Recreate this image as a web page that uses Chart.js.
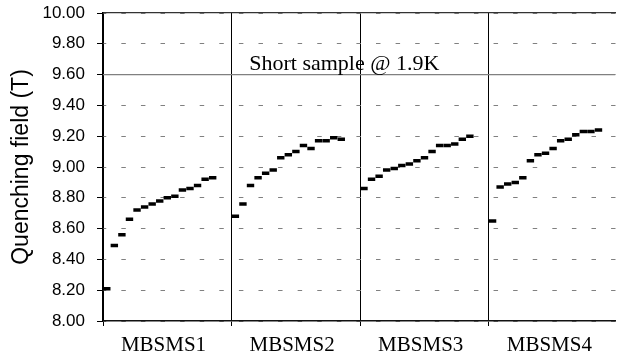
<!DOCTYPE html>
<html>
<head>
<meta charset="utf-8">
<script src="https://cdn.jsdelivr.net/npm/chart.js@4.4.0/dist/chart.umd.min.js"></script>
<style>
  html, body { margin: 0; padding: 0; background: #fff; }
  #wrap { width: 623px; height: 357px; position: relative; }
</style>
</head>
<body>
<div id="wrap"><canvas id="chart"></canvas></div>
<script>
// magnets and their quench fields (T)
const magnets = ['MBSMS1', 'MBSMS2', 'MBSMS3', 'MBSMS4'];
const mbsms1 = [8.21, 8.49, 8.56, 8.66, 8.72, 8.74, 8.76, 8.78, 8.80, 8.81, 8.85, 8.86, 8.88, 8.92, 8.93];
const mbsms2 = [8.68, 8.76, 8.88, 8.93, 8.96, 8.98, 9.06, 9.08, 9.10, 9.14, 9.12, 9.17, 9.17, 9.19, 9.18];
const mbsms3 = [8.86, 8.92, 8.94, 8.98, 8.99, 9.01, 9.02, 9.04, 9.06, 9.10, 9.14, 9.14, 9.15, 9.18, 9.20];
const mbsms4 = [8.65, 8.87, 8.89, 8.90, 8.93, 9.04, 9.08, 9.09, 9.12, 9.17, 9.18, 9.21, 9.23, 9.23, 9.24];
const shortSample = 9.60;
const shortSampleLabel = 'Short sample @ 1.9K';
const yTicks = [8.0, 8.2, 8.4, 8.6, 8.8, 9.0, 9.2, 9.4, 9.6, 9.8, 10.0];

const series = [mbsms1, mbsms2, mbsms3, mbsms4];
const SLOTS = 17;          // quench slots per magnet block
const X_MAX = 67.75;       // last block is cut by the picture edge
const LABEL_AT = 8;        // label position inside a block

const points = [];
series.forEach((vals, g) => {
  vals.forEach((v, i) => points.push({ x: g * SLOTS + i + 0.5, y: v }));
});

const serif = "'Liberation Serif', 'Times New Roman', serif";
const sans = "'Liberation Sans', Arial, sans-serif";

// short sample caption above the reference line
const captionPlugin = {
  id: 'caption',
  afterDatasetsDraw(chart) {
    const { ctx, scales: { x, y } } = chart;
    ctx.save();
    ctx.font = '22px ' + serif;
    ctx.fillStyle = '#000';
    ctx.textAlign = 'center';
    ctx.textBaseline = 'alphabetic';
    ctx.fillText(shortSampleLabel, x.getPixelForValue(31.9), y.getPixelForValue(shortSample) - 4.5);
    ctx.restore();
  }
};

new Chart(document.getElementById('chart'), {
  type: 'scatter',
  data: {
    datasets: [
      {
        data: points,
        pointStyle: 'line',
        pointRadius: 3.7,
        pointBorderWidth: 3.5,
        borderColor: '#000',
        backgroundColor: '#000',
        showLine: false
      },
      {
        type: 'line',
        data: [{ x: 0, y: shortSample }, { x: X_MAX, y: shortSample }],
        borderColor: '#808080',
        borderWidth: 1.3,
        pointRadius: 0
      }
    ]
  },
  options: {
    responsive: true,
    maintainAspectRatio: false,
    animation: false,
    layout: { padding: { top: 13, right: 0, left: 0, bottom: 0 } },
    plugins: { legend: { display: false }, tooltip: { enabled: false } },
    scales: {
      x: {
        type: 'linear',
        min: 0,
        max: X_MAX,
        afterBuildTicks: s => {
          const t = [];
          magnets.forEach((m, g) => {
            t.push({ value: g * SLOTS });
            t.push({ value: g * SLOTS + LABEL_AT });
          });
          s.ticks = t;
        },
        afterFit: s => {
          s.height = 36;
          s.paddingLeft = 0;
          s.paddingRight = 0;
        },
        ticks: {
          autoSkip: false,
          maxRotation: 0,
          padding: 7,
          color: '#000',
          font: { family: serif, size: 21 },
          callback: v => {
            const g = Math.round((v - LABEL_AT) / SLOTS);
            return Math.abs(g * SLOTS + LABEL_AT - v) < 0.01 ? magnets[g] : '';
          }
        },
        grid: {
          color: c => (c.tick && c.tick.value % SLOTS === 0 ? '#000' : 'rgba(0,0,0,0)'),
          lineWidth: 1,
          tickLength: 5
        },
        border: { color: '#111', width: 1.6 }
      },
      x2: {
        type: 'linear',
        position: 'top',
        min: 0,
        max: X_MAX,
        ticks: { display: false },
        grid: { display: false, drawTicks: false },
        afterFit: s => { s.height = 0; },
        border: { display: true, color: '#333', width: 1.3 }
      },
      y: {
        min: 8,
        max: 10,
        afterBuildTicks: s => { s.ticks = yTicks.map(v => ({ value: v })); },
        afterFit: s => {
          s.width = 103;
          s.paddingTop = 0;
          s.paddingBottom = 0;
        },
        ticks: {
          padding: 12,
          color: '#000',
          font: { family: sans, size: 17 },
          callback: v => Number(v).toFixed(2)
        },
        grid: {
          color: '#808080',
          lineWidth: 1,
          tickLength: 6,
          tickColor: '#000',
          tickBorderDash: []
        },
        border: { color: '#000', width: 1.3, dash: [4.5, 15.09], dashOffset: 1.55 },
        title: {
          display: true,
          text: 'Quenching field (T)',
          color: '#000',
          font: { family: sans, size: 23 },
          padding: { top: 8, bottom: 0 }
        }
      }
    }
  },
  plugins: [captionPlugin]
});
</script>
</body>
</html>
